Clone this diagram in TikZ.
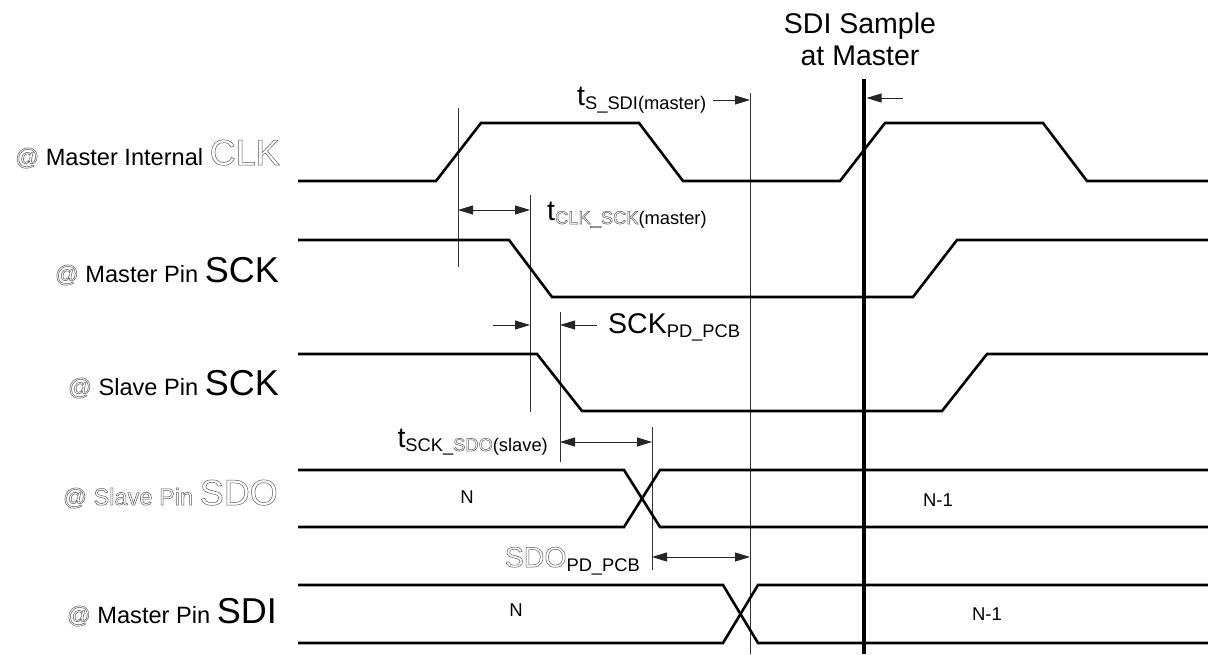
\documentclass[tikz,border=0pt]{standalone}
\usepackage{fontspec}
\setmainfont{Liberation Sans}
\usetikzlibrary{arrows.meta}
\newcommand\outl[1]{\special{pdf:literal direct 1 Tr 0.5 w 0.35 G}#1\special{pdf:literal direct 0 Tr 0 G}}
\newcommand\lblfont{\fontsize{23.6}{26}\selectfont}
\newcommand\bigfont{\fontsize{36}{40}\selectfont}
\newcommand\tlab[2]{{\fontsize{28.5}{30}\selectfont #1}\raisebox{-4pt}{\fontsize{18.3}{20}\selectfont #2}}
\begin{document}
\begin{tikzpicture}[x=1pt,y=-1pt,
  sig/.style={line width=2.6pt, line join=miter},
  guide/.style={line width=1pt, draw=black!80},
  meas/.style={line width=0.9pt, draw=black!85},
  tip/.style={-{Triangle[length=15pt,width=9pt]}},
  dtip/.style={{Triangle[length=15pt,width=9pt]}-{Triangle[length=15pt,width=9pt]}},
  lbl/.style={inner sep=0pt, anchor=base east},
  tl/.style={inner sep=0pt},
  val/.style={inner sep=0pt, font=\fontsize{18.5}{20}\selectfont}]
\useasboundingbox (0,0) rectangle (1208,654);
% guide lines
\coordinate (v1t) at (458,108); \coordinate (v1b) at (458,267);
\coordinate (v2t) at (530,195); \coordinate (v2b) at (530,412);
\coordinate (v3t) at (560,312); \coordinate (v3b) at (560,462);
\coordinate (v4t) at (652,427); \coordinate (v4b) at (652,570);
\coordinate (v5t) at (750,93);  \coordinate (v5b) at (750,654);
\coordinate (vst) at (864,79);  \coordinate (vsb) at (864,654);
\draw[guide] (v1t) -- (v1b);
\draw[guide] (v2t) -- (v2b);
\draw[guide] (v3t) -- (v3b);
\draw[guide] (v4t) -- (v4b);
\draw[guide] (v5t) -- (v5b);
\draw[line width=4.5pt] (vst) -- (vsb);
% signals
\draw[sig] (298,181) -- (436,181) -- (481,123) -- (639,123) -- (683,181) -- (840,181) -- (885,123) -- (1043,123) -- (1087,181) -- (1210,181);
\draw[sig] (298,240) -- (509,240) -- (552,297) -- (913,297) -- (957,240) -- (1210,240);
\draw[sig] (298,354) -- (537,354) -- (582,411) -- (942,411) -- (987,354) -- (1210,354);
\draw[sig] (298,470) -- (624,470) -- (660,527) -- (1210,527);
\draw[sig] (298,527) -- (624,527) -- (660,470) -- (1210,470);
\draw[sig] (298,585) -- (723,585) -- (758,643) -- (1210,643);
\draw[sig] (298,643) -- (723,643) -- (758,585) -- (1210,585);
% measurement arrows
\coordinate (a1s) at (713,100); \coordinate (a1e) at (750,100);
\draw[meas,tip] (a1s) -- (a1e);
\coordinate (a2s) at (903,98); \coordinate (a2e) at (866.5,98);
\draw[meas,tip] (a2s) -- (a2e);
\coordinate (a3s) at (458,210); \coordinate (a3e) at (530,210);
\draw[meas,dtip] (a3s) -- (a3e);
\coordinate (a4s) at (493,325); \coordinate (a4e) at (530,325);
\draw[meas,tip] (a4s) -- (a4e);
\coordinate (a5s) at (597,325); \coordinate (a5e) at (560,325);
\draw[meas,tip] (a5s) -- (a5e);
\coordinate (a6s) at (560,442); \coordinate (a6e) at (652,442);
\draw[meas,dtip] (a6s) -- (a6e);
\coordinate (a7s) at (652,557); \coordinate (a7e) at (750,557);
\draw[meas,dtip] (a7s) -- (a7e);
% values
\node[val] (n1) at (467,497) {N};
\node[val] (n2) at (938,500) {N-1};
\node[val] (n3) at (516,610) {N};
\node[val] (n4) at (987,614) {N-1};
% top label
\node[inner sep=0pt, anchor=base, font=\fontsize{28.5}{30}\selectfont] (smp1) at (860,33) {SDI Sample};
\node[inner sep=0pt, anchor=base, font=\fontsize{28.5}{30}\selectfont] (smp2) at (860,65) {at Master};
% timing labels
\node[tl, anchor=base west] (ts) at (577,105) {\tlab{t}{S\_SDI(master)}};
\node[tl, anchor=base west] (tc) at (547,220) {\tlab{t}{\outl{CLK\_SCK}(master)}};
\node[tl, anchor=base west] (sp) at (608,333) {\tlab{SCK}{PD\_PCB}};
\node[tl, anchor=base east] (tso) at (548,447) {\tlab{t}{SCK\_\outl{SDO}(slave)}};
\node[tl, anchor=base east] (sdp) at (640,567) {\tlab{\outl{SDO}}{PD\_PCB}};
% row labels
\node[lbl] (r1) at (280,165) {\lblfont\outl{@} Master Internal \bigfont\outl{CLK}};
\node[lbl] (r2) at (279,282) {\lblfont\outl{@} Master Pin \bigfont SCK};
\node[lbl] (r3) at (279,395) {\lblfont\outl{@} Slave Pin \bigfont SCK};
\node[lbl] (r4) at (278,505) {\lblfont\outl{@ Slave Pin \bigfont SDO}};
\node[lbl] (r5) at (277,623) {\lblfont\outl{@} Master Pin \bigfont SDI};
\end{tikzpicture}
\end{document}
